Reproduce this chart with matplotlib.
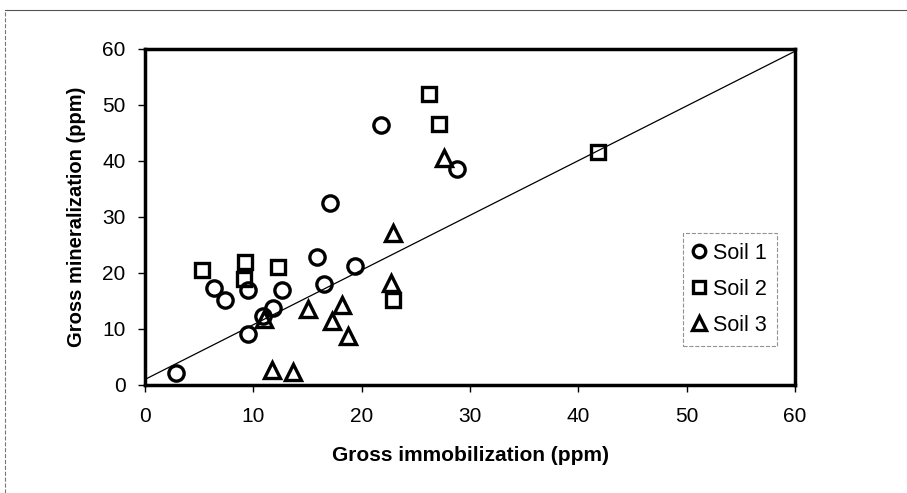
import matplotlib.pyplot as plt
from matplotlib.lines import Line2D

plt.rcParams["font.family"] = ["Liberation Sans", "DejaVu Sans"]

# Soil 1 (circles)
soil1_x = [2.9, 21.8, 28.8, 17.1, 15.9, 19.4, 16.5, 6.4, 7.4, 9.5, 12.6, 11.8, 10.9, 9.5]
soil1_y = [2.2, 46.4, 38.6, 32.5, 22.8, 21.2, 18.1, 17.3, 15.1, 17.0, 17.0, 13.7, 12.3, 9.1]

# Soil 2 (squares)
soil2_x = [26.2, 27.1, 41.8, 5.3, 9.2, 9.1, 12.3, 22.9]
soil2_y = [52.0, 46.6, 41.6, 20.6, 21.9, 18.9, 21.0, 15.1]

# Soil 3 (triangles)
soil3_x = [27.6, 22.9, 22.7, 15.0, 18.2, 17.3, 18.7, 11.0, 11.7, 13.7]
soil3_y = [40.6, 27.2, 18.3, 13.5, 14.2, 11.4, 8.7, 11.7, 2.7, 2.4]

line_x = [0, 60]
line_y = [1.0, 59.6]

ticks = [0, 10, 20, 30, 40, 50, 60]

fig = plt.figure(figsize=(9.07, 4.93), dpi=100)
ax = fig.add_axes([145 / 907, 1 - 385 / 493, 650 / 907, 336 / 493])

ax.plot(line_x, line_y, color="black", lw=0.9, zorder=2)

mk = dict(linestyle="none", markerfacecolor="none", markeredgecolor="black",
          markeredgewidth=2.4, zorder=3, clip_on=False)
ax.plot(soil1_x, soil1_y, marker="o", ms=11, label="Soil 1", **mk)
ax.plot(soil2_x, soil2_y, marker="s", ms=10.5, label="Soil 2", **mk)
ax.plot(soil3_x, soil3_y, marker="^", ms=12, label="Soil 3", **mk)

ax.set_xlim(0, 60)
ax.set_ylim(0, 60)
ax.set_xticks(ticks)
ax.set_yticks(ticks)
ax.tick_params(labelsize=15, direction="out", length=5, width=1, pad=9)
ax.tick_params(axis="x", pad=11)
for s in ax.spines.values():
    s.set_linewidth(2.5)

ax.set_xlabel("Gross immobilization (ppm)", fontsize=15, fontweight="bold", labelpad=14)
ax.set_ylabel("Gross mineralization (ppm)", fontsize=14.5, fontweight="bold", labelpad=12)

handles = [
    Line2D([], [], marker="o", ms=9, **mk),
    Line2D([], [], marker="s", ms=9, **mk),
    Line2D([], [], marker="^", ms=10, **mk),
]
leg = ax.legend(handles, ["Soil 1", "Soil 2", "Soil 3"], loc="upper left",
                bbox_to_anchor=((683 - 145) / 650, (385 - 233) / 336),
                fontsize=15.5, frameon=True, fancybox=False, handlelength=0.6,
                handletextpad=0.35, borderpad=0.45, labelspacing=0.7,
                borderaxespad=0)
leg.get_frame().set_edgecolor("#777777")
leg.get_frame().set_linestyle("--")
leg.get_frame().set_linewidth(0.8)

# outer chart-area border (top and left)
fig.add_artist(Line2D([5 / 907, 1], [1 - 10 / 493] * 2, color="#555555", lw=0.8,
                      transform=fig.transFigure))
fig.add_artist(Line2D([5 / 907] * 2, [0, 1 - 10 / 493], color="#777777", lw=0.8,
                      linestyle="--", transform=fig.transFigure))

fig.savefig("out.png", dpi=100)
